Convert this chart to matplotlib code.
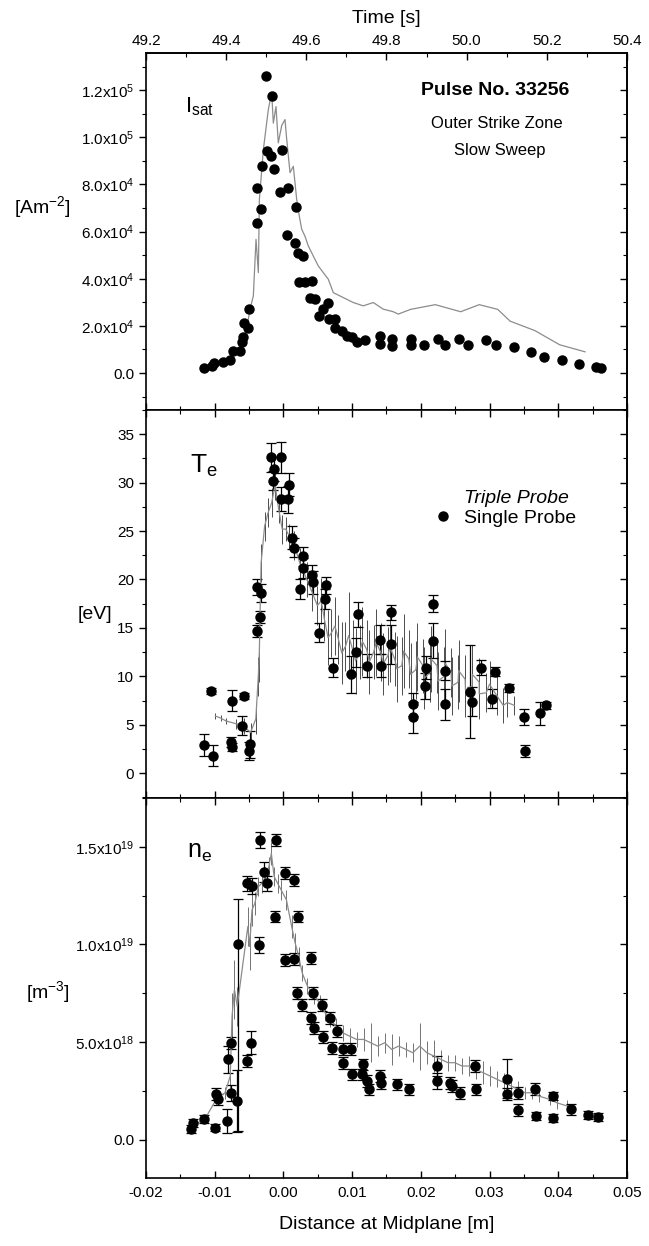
import matplotlib
matplotlib.use('Agg')
import matplotlib.pyplot as plt
from matplotlib.lines import Line2D
from matplotlib.ticker import MultipleLocator
import numpy as np

plt.rcParams['font.family'] = ['Liberation Sans', 'DejaVu Sans']
plt.rcParams['mathtext.default'] = 'regular'

# ---- I_sat (Am^-2) ----
isat_dot_x = [-0.01156, -0.01044, -0.0101, -0.00875, -0.00778, -0.00739, -0.00632, -0.00608,
              -0.00584, -0.00574, -0.00511, -0.00497, -0.00389, -0.0038, -0.00331, -0.00316,
              -0.00244, -0.00186, -0.00137, -0.00171, -0.0025, -0.00025, -0.0005, 0.00071,
              0.00183, 0.00056, 0.00168, 0.00217, 0.00289, 0.00231, 0.00314, 0.00411,
              0.00387, 0.00459, 0.00522, 0.0058, 0.00653, 0.00668, 0.0075, 0.0075,
              0.00848, 0.0092, 0.00994, 0.01066, 0.01187, 0.01405, 0.01405, 0.01576,
              0.01576, 0.0185, 0.0185, 0.0205, 0.0225, 0.0235, 0.0255, 0.0268,
              0.0295, 0.031, 0.0335, 0.036, 0.038, 0.0405, 0.043, 0.0455, 0.0462]
isat_dot_y = [1.97e3, 3.1e3, 4.1e3, 4.8e3, 5.6e3, 9.2e3, 9.4e3, 1.33e4,
              1.51e4, 2.14e4, 1.93e4, 2.71e4, 6.38e4, 7.83e4, 6.94e4, 8.80e4,
              9.41e4, 9.2e4, 8.67e4, 1.173e5, 1.26e5, 9.48e4, 7.69e4, 7.86e4,
              7.05e4, 5.85e4, 5.5e4, 5.1e4, 4.96e4, 3.86e4, 3.86e4, 3.9e4,
              3.2e4, 3.13e4, 2.43e4, 2.71e4, 2.99e4, 2.28e4, 2.28e4, 1.93e4,
              1.79e4, 1.58e4, 1.51e4, 1.3e4, 1.41e4, 1.58e4, 1.23e4, 1.44e4,
              1.16e4, 1.45e4, 1.2e4, 1.2e4, 1.45e4, 1.2e4, 1.45e4, 1.2e4,
              1.4e4, 1.2e4, 1.1e4, 9e3, 7e3, 5.5e3, 4e3, 2.5e3, 2.2e3]
isat_tri_x = [-0.00753, -0.00632, -0.00535, -0.00487, -0.00438, -0.00399, -0.00365, -0.0035,
              -0.00292, -0.0022, -0.00171, -0.00147, -0.00108, -0.00075, -0.00025, 0.00023,
              0.00048, 0.00096, 0.00144, 0.00193, 0.00231, 0.00266, 0.00314, 0.00362,
              0.00435, 0.00508, 0.0058, 0.00653, 0.00726, 0.00823, 0.0092, 0.01017,
              0.01162, 0.01308, 0.01453, 0.01599, 0.01672, 0.0185, 0.0221, 0.0258,
              0.0285, 0.0312, 0.033, 0.0366, 0.0402, 0.0439]
isat_tri_y = [7.3e3, 1.0e4, 1.86e4, 2.7e4, 3.27e4, 5.67e4, 4.26e4, 7.36e4,
              9.48e4, 1.117e5, 1.19e5, 1.06e5, 1.13e5, 9.76e4, 1.05e5, 1.075e5,
              9.9e4, 8.5e4, 8.77e4, 7.36e4, 6.66e4, 6.1e4, 5.8e4, 5.39e4,
              4.96e4, 4.54e4, 4.26e4, 3.98e4, 3.41e4, 3.27e4, 3.13e4, 2.99e4,
              2.85e4, 2.99e4, 2.71e4, 2.6e4, 2.5e4, 2.7e4, 2.9e4, 2.6e4,
              2.9e4, 2.7e4, 2.2e4, 1.8e4, 1.2e4, 9e3]

# ---- T_e (eV) ----
te_x = [-0.0116, -0.0103, -0.0105, -0.0075, -0.0076, -0.0075, -0.0058, -0.0061, -0.0049, -0.0050,
        -0.0038, -0.0038, -0.0033, -0.0034, -0.0018, -0.0014, -0.0015, -0.0003, 0.0008, 0.0007,
        -0.0004, 0.0013, 0.0016, 0.0028, 0.0028, 0.0024, 0.0041, 0.0043, 0.0062, 0.0061,
        0.0052, 0.0072, 0.0098, 0.0108, 0.0106, 0.0121, 0.0141, 0.0142, 0.0157, 0.0157,
        0.0188, 0.0189, 0.0206, 0.0207, 0.0217, 0.0217, 0.0235, 0.0235, 0.0272, 0.0274,
        0.0288, 0.0304, 0.0308, 0.0329, 0.0350, 0.0352, 0.0374, 0.0382]
te_y = [2.9, 1.8, 8.5, 7.5, 3.2, 2.7, 8.0, 4.9, 3.0, 2.3,
        14.7, 19.2, 18.6, 16.1, 32.6, 31.4, 30.2, 32.6, 29.8, 28.3,
        28.3, 24.3, 23.3, 22.4, 21.2, 19.0, 20.5, 19.7, 19.4, 18.0,
        14.5, 10.9, 10.2, 16.4, 12.5, 11.1, 13.8, 11.1, 16.6, 13.3,
        7.1, 5.8, 9.0, 10.9, 17.5, 13.7, 10.6, 7.1, 8.4, 7.4,
        10.9, 7.7, 10.5, 8.8, 5.8, 2.3, 6.2, 7.0]
te_err = [1.1, 1.1, 0.3, 1.1, 0.5, 0.4, 0.3, 1.0, 1.4, 0.9,
          0.6, 0.8, 0.9, 0.6, 1.5, 1.2, 1.0, 1.6, 1.2, 1.4,
          1.2, 1.2, 1.0, 1.0, 1.0, 1.0, 1.0, 1.2, 0.9, 1.0,
          1.0, 1.0, 1.9, 1.3, 1.5, 1.2, 1.5, 1.2, 0.8, 2.0,
          1.2, 1.6, 1.3, 1.2, 0.9, 1.8, 1.0, 1.6, 4.8, 1.5,
          0.8, 1.0, 0.5, 0.4, 0.8, 0.6, 1.2, 0.4]
te_tri_x = [-0.0099, -0.00914, -0.00838, -0.00684, -0.00581, -0.00479, -0.00402, -0.00366, -0.00351,
            -0.00325, -0.00274, -0.00223, -0.00172, -0.00121, -0.0007, -0.00018, 0.00033, 0.00084,
            0.00161, 0.00238, 0.0034, 0.00417, 0.00494, 0.0055, 0.00596, 0.0065, 0.00699,
            0.0075, 0.00801, 0.0085, 0.00903, 0.0095, 0.01006, 0.0105, 0.01108, 0.0115,
            0.01211, 0.0125, 0.01313, 0.0135, 0.01416, 0.0145, 0.01518, 0.0155, 0.0162,
            0.0165, 0.01723, 0.0175, 0.01825, 0.0185, 0.01928, 0.0195, 0.0203, 0.0205,
            0.02133, 0.0215, 0.02235, 0.0225, 0.02337, 0.0235, 0.0244, 0.0245, 0.02542,
            0.0255, 0.02645, 0.0265, 0.02747, 0.0275, 0.02849, 0.0285, 0.02952, 0.0300,
            0.03106, 0.0320, 0.03259, 0.03362]
te_tri_y = [5.9, 5.7, 5.4, 5.1, 4.9, 4.2, 5.6, 10.0, 12.4,
            21.7, 25.5, 26.9, 27.9, 29.7, 27.3, 25.2, 25.2, 24.5,
            23.5, 21.7, 20.0, 18.7, 17.3, 17.8, 15.9, 14.0, 14.5,
            15.2, 13.8, 12.4, 13.1, 14.2, 12.8, 11.6, 12.5, 13.6,
            12.8, 11.5, 12.5, 13.5, 12.5, 11.3, 12.1, 13.0, 11.8,
            10.8, 11.1, 12.6, 11.8, 10.2, 10.7, 12.0, 11.1, 9.8,
            10.4, 11.8, 11.1, 9.5, 10.0, 11.4, 10.4, 9.0, 9.4,
            10.6, 9.7, 8.6, 9.0, 10.2, 9.4, 8.2, 8.3, 9.2,
            8.0, 7.0, 7.3, 7.0]
te_tri_err = [0.3, 0.3, 0.3, 0.5, 0.8, 1.0, 1.5, 2.0, 3.0,
              2.0, 1.5, 1.5, 1.5, 1.5, 1.5, 1.5, 1.2, 1.2,
              1.5, 1.5, 1.8, 2.0, 2.0, 2.4, 2.2, 2.8, 2.5,
              3.0, 2.5, 3.2, 2.5, 4.5, 3.0, 3.4, 2.8, 3.6,
              3.0, 3.3, 2.8, 3.5, 3.0, 3.2, 3.0, 3.6, 2.8,
              3.4, 3.0, 3.8, 3.0, 3.2, 3.0, 3.5, 2.8, 3.2,
              3.0, 3.4, 2.8, 3.0, 3.0, 3.5, 2.5, 3.0, 2.8,
              3.2, 2.5, 2.8, 2.5, 3.0, 2.5, 2.6, 2.0, 2.4,
              2.0, 1.8, 1.5, 1.0]

# ---- n_e (1e18 m^-3) ----
ne_x = [-0.0135, -0.0131, -0.0116, -0.0100, -0.0098, -0.0095, -0.0082, -0.0080, -0.0076, -0.0077,
        -0.0068, -0.0066, -0.0053, -0.0047, -0.0053, -0.0046, -0.0036, -0.0034, -0.0029, -0.0024,
        -0.0011, -0.0012, 0.0002, 0.0015, 0.0021, 0.0002, 0.0015, 0.0040, 0.0020, 0.0027,
        0.0040, 0.0044, 0.0043, 0.0056, 0.0057, 0.0068, 0.0071, 0.0078, 0.0086, 0.0099,
        0.0086, 0.0100, 0.0114, 0.0116, 0.0122, 0.0124, 0.0140, 0.0142, 0.0165, 0.0183,
        0.0224, 0.0223, 0.0242, 0.0245, 0.0257, 0.0279, 0.0280, 0.0325, 0.0326, 0.0342,
        0.0342, 0.0366, 0.0367, 0.0392, 0.0392, 0.0418, 0.0444, 0.0458]
ne_y = [0.54, 0.88, 1.05, 0.63, 2.33, 2.07, 0.97, 4.12, 4.97, 2.41,
        1.99, 10.03, 4.03, 4.97, 13.13, 12.99, 9.98, 15.34, 13.72, 13.13,
        15.34, 11.43, 13.67, 13.3, 11.43, 9.22, 9.25, 9.3, 7.52, 6.92,
        6.24, 5.73, 7.52, 6.92, 5.27, 6.24, 4.71, 5.56, 4.66, 4.66,
        3.94, 3.35, 3.35, 3.86, 3.01, 2.58, 3.27, 2.92, 2.84, 2.58,
        3.77, 3.01, 2.92, 2.75, 2.41, 3.77, 2.58, 3.13, 2.33, 2.41,
        1.53, 2.62, 1.22, 2.24, 1.14, 1.56, 1.26, 1.19]
ne_err_lo = [0.2, 0.2, 0.2, 0.2, 0.3, 0.3, 0.6, 0.7, 0.3, 0.4,
             1.6, 9.6, 0.3, 0.6, 0.4, 0.4, 0.4, 0.4, 0.5, 0.4,
             0.3, 0.3, 0.3, 0.3, 0.3, 0.3, 0.3, 0.3, 0.3, 0.3,
             0.3, 0.3, 0.3, 0.3, 0.3, 0.3, 0.3, 0.3, 0.3, 0.3,
             0.3, 0.3, 0.3, 0.3, 0.3, 0.3, 0.3, 0.3, 0.3, 0.3,
             0.5, 0.4, 0.3, 0.3, 0.3, 0.3, 0.3, 1.0, 0.3, 0.3,
             0.3, 0.3, 0.2, 0.2, 0.2, 0.3, 0.2, 0.2]
ne_err_hi = [0.2, 0.2, 0.2, 0.2, 0.3, 0.3, 0.6, 0.7, 0.3, 0.4,
             1.6, 2.3, 0.3, 0.6, 0.4, 0.4, 0.4, 0.4, 0.5, 0.4,
             0.3, 0.3, 0.3, 0.3, 0.3, 0.3, 0.3, 0.3, 0.3, 0.3,
             0.3, 0.3, 0.3, 0.3, 0.3, 0.3, 0.3, 0.3, 0.3, 0.3,
             0.3, 0.3, 0.3, 0.3, 0.3, 0.3, 0.3, 0.3, 0.3, 0.3,
             0.5, 0.4, 0.3, 0.3, 0.3, 0.3, 0.3, 1.0, 0.3, 0.3,
             0.3, 0.3, 0.2, 0.2, 0.2, 0.3, 0.2, 0.2]
ne_tri_x = [-0.01336, -0.01131, -0.00978, -0.0085, -0.00774, -0.00748, -0.00713, -0.00672,
            -0.00518, -0.00493, -0.00457, -0.00416, -0.00365, -0.00314, -0.00263, -0.00212,
            -0.00176, -0.00135, -0.00084, -0.00033, 0.00044, 0.0012, 0.00171, 0.00222,
            0.00274, 0.0035, 0.00452, 0.00529, 0.00606, 0.00682, 0.00759, 0.00861,
            0.00963, 0.01065, 0.01168, 0.0127, 0.01372, 0.01474, 0.01576, 0.01678,
            0.01781, 0.01883, 0.01985, 0.02087, 0.02189, 0.02292, 0.02394, 0.02496,
            0.02598, 0.027, 0.02802, 0.02905, 0.03007, 0.03109, 0.03211, 0.03313,
            0.03415, 0.03518, 0.0362, 0.03722, 0.03875, 0.03978, 0.04131]
ne_tri_y = [0.63, 1.14, 2.07, 2.41, 3.27, 6.33, 7.69, 6.84,
            10.92, 9.9, 11.77, 12.11, 12.96, 13.13, 13.47, 13.98,
            14.66, 13.47, 13.13, 12.79, 12.28, 10.92, 10.07, 9.39,
            8.54, 7.86, 7.35, 7.01, 6.5, 6.16, 5.82, 5.48,
            5.31, 5.14, 5.14, 4.97, 4.8, 4.97, 4.63, 4.8,
            4.63, 4.46, 4.8, 4.46, 4.29, 4.12, 3.95, 3.95,
            3.78, 3.78, 3.61, 3.44, 3.27, 3.1, 2.93, 2.76,
            2.59, 2.41, 2.41, 2.24, 2.07, 1.9, 1.73]
ne_tri_err = [0.2, 0.2, 0.3, 0.3, 0.6, 1.2, 1.5, 1.0,
              1.0, 1.2, 0.8, 0.6, 0.5, 0.5, 0.5, 0.5,
              0.6, 0.5, 0.5, 0.5, 0.5, 0.6, 0.5, 0.5,
              0.4, 0.4, 0.4, 0.4, 0.4, 0.4, 0.4, 0.4,
              0.4, 0.4, 0.6, 1.0, 0.5, 0.5, 0.8, 0.5,
              0.4, 0.5, 1.2, 0.6, 0.8, 0.5, 0.4, 0.4,
              0.4, 0.5, 0.5, 0.6, 0.5, 0.4, 0.5, 0.4,
              0.4, 0.3, 0.3, 0.3, 0.3, 0.3, 0.3]

isat_ticks = [0, 2e4, 4e4, 6e4, 8e4, 1e5, 1.2e5]
isat_labels = ['0.0', '2.0x10$^4$', '4.0x10$^4$', '6.0x10$^4$', '8.0x10$^4$', '1.0x10$^5$', '1.2x10$^5$']
te_ticks = [0, 5, 10, 15, 20, 25, 30, 35]
ne_ticks = [0, 5e18, 1e19, 1.5e19]
ne_labels = ['0.0', '5.0x10$^{18}$', '1.0x10$^{19}$', '1.5x10$^{19}$']
x_ticks = [-0.02, -0.01, 0.0, 0.01, 0.02, 0.03, 0.04, 0.05]
time_ticks = [49.2, 49.4, 49.6, 49.8, 50.0, 50.2, 50.4]

TRI = '0.55'
DOT = 'black'


def to_time(x):
    return 49.2 + (np.asarray(x) + 0.02) / 0.07 * 1.2


def from_time(t):
    return (np.asarray(t) - 49.2) / 1.2 * 0.07 - 0.02


def style(ax, yticks, ylabels, yminor, bottom_labels=False):
    ax.set_xlim(-0.02, 0.05)
    ax.xaxis.set_major_locator(MultipleLocator(0.01))
    ax.xaxis.set_minor_locator(MultipleLocator(0.005))
    ax.set_yticks(yticks, ylabels)
    ax.yaxis.set_minor_locator(MultipleLocator(yminor))
    ax.tick_params(axis='x', which='both', direction='in', top=True, bottom=True,
                   labelbottom=bottom_labels, labelsize=11, pad=6)
    ax.tick_params(axis='y', which='both', direction='out', left=True, right=False, labelsize=11)
    ax.tick_params(which='major', length=5, width=1)
    ax.tick_params(which='minor', length=3, width=0.8)
    sec = ax.secondary_yaxis('right')
    sec.set_yticks(yticks)
    sec.yaxis.set_minor_locator(MultipleLocator(yminor))
    sec.tick_params(which='both', direction='in', labelright=False)
    sec.tick_params(which='major', length=5, width=1)
    sec.tick_params(which='minor', length=3, width=0.8)
    for s in ax.spines.values():
        s.set_linewidth(1.2)
    sec.spines['right'].set_linewidth(1.2)


fig = plt.figure(figsize=(6.49, 12.46), dpi=100)
ax1 = fig.add_axes([0.225, 0.6709, 0.741, 0.2865])
ax2 = fig.add_axes([0.225, 0.3596, 0.741, 0.3114])
ax3 = fig.add_axes([0.225, 0.0546, 0.741, 0.305])

# I_sat panel
ax1.plot(isat_tri_x, isat_tri_y, color=TRI, lw=0.9)
ax1.plot(isat_dot_x, isat_dot_y, 'o', color=DOT, ms=6.5)
ax1.set_ylim(-1.57e4, 1.357e5)
style(ax1, isat_ticks, isat_labels, 1e4)
ax1.tick_params(axis='x', which='both', top=False)
top = ax1.secondary_xaxis('top', functions=(to_time, from_time))
top.set_xticks(time_ticks)
top.xaxis.set_minor_locator(MultipleLocator(0.1))
top.tick_params(which='both', direction='in', labelsize=11)
top.tick_params(which='major', length=5, width=1)
top.tick_params(which='minor', length=3, width=0.8)
top.spines['top'].set_linewidth(1.2)
top.set_xlabel('Time [s]', fontsize=14, labelpad=8)
ax1.set_ylabel('[Am$^{-2}$]', fontsize=14, rotation=0)
ax1.yaxis.set_label_coords(-0.216, 0.532)
ax1.text(0.081, 0.835, 'I$_{sat}$', transform=ax1.transAxes, fontsize=16, va='baseline')
ax1.text(0.726, 0.896, 'Pulse No. 33256', transform=ax1.transAxes, fontsize=14,
         fontweight='bold', ha='center', va='center')
ax1.text(0.73, 0.804, 'Outer Strike Zone', transform=ax1.transAxes, fontsize=12,
         ha='center', va='center')
ax1.text(0.736, 0.728, 'Slow Sweep', transform=ax1.transAxes, fontsize=12,
         ha='center', va='center')

# T_e panel
ax2.errorbar(te_tri_x, te_tri_y, yerr=te_tri_err, color=TRI, lw=0.9, elinewidth=0.7,
             ecolor='0.3', capsize=0)
ax2.errorbar(te_x, te_y, yerr=te_err, fmt='o', color=DOT, ms=6.5, elinewidth=0.9,
             capsize=3.5, capthick=0.9)
ax2.set_ylim(-2.55, 37.5)
style(ax2, te_ticks, [str(t) for t in te_ticks], 2.5)
ax2.set_ylabel('[eV]', fontsize=14, rotation=0)
ax2.yaxis.set_label_coords(-0.106, 0.451)
ax2.text(0.0915, 0.838, 'T$_e$', transform=ax2.transAxes, fontsize=19, va='baseline')
handles = [Line2D([], [], color='none', lw=0.6),
           Line2D([], [], ls='none', marker='o', color=DOT, ms=6.5)]
leg = ax2.legend(handles, ['Triple Probe', 'Single Probe'], loc='upper left',
                 bbox_to_anchor=(0.56, 0.84), frameon=False, fontsize=14,
                 handlelength=1.0, handletextpad=0.6, labelspacing=0.1)
leg.get_texts()[0].set_style('italic')

# n_e panel
ne_scale = 1e18
ax3.errorbar(ne_tri_x, np.array(ne_tri_y) * ne_scale, yerr=np.array(ne_tri_err) * ne_scale,
             color=TRI, lw=0.9, elinewidth=0.7, ecolor='0.45', capsize=0)
ax3.errorbar(ne_x, np.array(ne_y) * ne_scale,
             yerr=[np.array(ne_err_lo) * ne_scale, np.array(ne_err_hi) * ne_scale],
             fmt='o', color=DOT, ms=6.5, elinewidth=0.9, capsize=3.5, capthick=0.9)
ax3.set_ylim(-1.95e18, 1.75e19)
style(ax3, ne_ticks, ne_labels, 2.5e18, bottom_labels=True)
ax3.set_xticks(x_ticks, ['-0.02', '-0.01', '0.00', '0.01', '0.02', '0.03', '0.04', '0.05'])
ax3.set_xlabel('Distance at Midplane [m]', fontsize=14, labelpad=11)
ax3.set_ylabel('[m$^{-3}$]', fontsize=14, rotation=0)
ax3.yaxis.set_label_coords(-0.204, 0.455)
ax3.text(0.085, 0.842, 'n$_e$', transform=ax3.transAxes, fontsize=18, va='baseline')

fig.savefig('out.png', dpi=100)
